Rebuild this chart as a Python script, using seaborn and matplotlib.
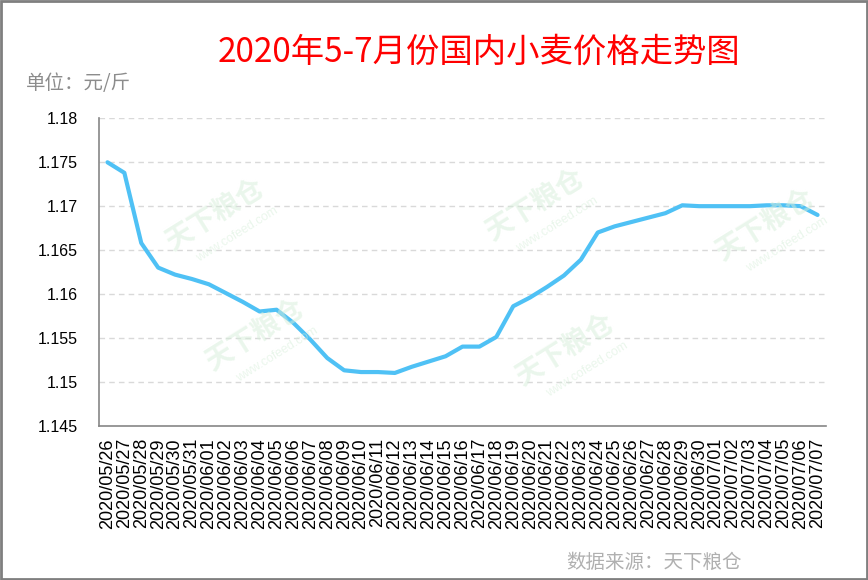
import matplotlib
matplotlib.use("Agg")
import matplotlib.pyplot as plt
import seaborn as sns
import numpy as np
import pandas as pd
from matplotlib.patches import Rectangle

dates = (["2020/05/%02d" % d for d in range(26, 32)]
         + ["2020/06/%02d" % d for d in range(1, 31)]
         + ["2020/07/%02d" % d for d in range(1, 8)])
prices = [1.1750, 1.1738, 1.1658, 1.1630, 1.1622, 1.1617, 1.1611, 1.1601, 1.1591,
          1.1580, 1.1582, 1.1567, 1.1548, 1.1527, 1.1513, 1.1511, 1.1511, 1.1510,
          1.1517, 1.1523, 1.1529, 1.1540, 1.1540, 1.1551, 1.1586, 1.1596, 1.1608,
          1.1621, 1.1639, 1.1670, 1.1677, 1.1682, 1.1687, 1.1692, 1.1701, 1.1700,
          1.1700, 1.1700, 1.1700, 1.1701, 1.1701, 1.1700, 1.1690]
yticks = [1.145, 1.15, 1.155, 1.16, 1.165, 1.17, 1.175, 1.18]
ytick_labels = ["1.145", "1.15", "1.155", "1.16", "1.165", "1.17", "1.175", "1.18"]
title = "2020年5-7月份国内小麦价格走势图"
unit_label = "单位：元/斤"
source = "数据来源：天下粮仓"

sns.set_style("white")
plt.rcParams['font.family'] = ['Liberation Sans', 'Noto Sans CJK SC', 'DejaVu Sans']

W, H = 868, 580
fig = plt.figure(figsize=(W / 100, H / 100), dpi=100)
ax = fig.add_axes([99 / W, 1 - 425.6 / H, (826 - 99) / W, (425.6 - 118.4) / H])

df = pd.DataFrame({"idx": np.arange(len(dates)), "price": prices})

# faint watermarks
wm = [(215, 215), (255, 335), (535, 205), (565, 350), (765, 225)]
for (px, py) in wm:
    fig.text(px / W, 1 - py / H, "天下粮仓", family=['Noto Sans CJK SC'], fontsize=20,
             color="#d6eed9", alpha=0.5, rotation=32, ha="center", va="center",
             fontweight="bold", zorder=0)
    fig.text((px + 22) / W, 1 - (py + 20) / H, "www.cofeed.com", fontsize=9,
             color="#d6eed9", alpha=0.5, rotation=32, ha="center", va="center", zorder=0)

sns.lineplot(data=df, x="idx", y="price", ax=ax, color="#4fc1f5", linewidth=3.0,
             zorder=3, solid_joinstyle="round", solid_capstyle="round")

ax.set_xlim(-0.5, len(dates) - 0.5)
ax.set_ylim(1.145, 1.18)
ax.set_yticks(yticks)
ax.set_yticklabels(ytick_labels, fontsize=11.5, color="black")
ax.set_xticks(np.arange(len(dates)))
ax.set_xticklabels(dates, rotation=90, fontsize=13, color="black")
ax.set_xticks(np.arange(len(dates) + 1) - 0.5, minor=True)
ax.tick_params(axis="x", which="major", length=0, pad=9)
ax.tick_params(axis="x", which="minor", length=6, width=1, color="#868686", direction="out")
ax.tick_params(axis="y", which="major", length=5, width=1, color="#868686", direction="out", pad=10)
ax.set_xlabel("")
ax.set_ylabel("")

ax.grid(False)
for yv in yticks[1:]:
    ax.axhline(yv, color="#d9d9d9", linewidth=1, linestyle=(0, (4, 3)), zorder=1)

for s in ["top", "right"]:
    ax.spines[s].set_visible(False)
for s in ["left", "bottom"]:
    ax.spines[s].set_color("#868686")
    ax.spines[s].set_linewidth(1.2)
ax.patch.set_alpha(0)

fig.text(479 / W, 1 - 52 / H, title, family=['Noto Sans CJK SC'], fontsize=24,
         fontweight="light", color="#ff0000", ha="center", va="center")
fig.text(26 / W, 1 - 83 / H, unit_label, family=['Noto Sans CJK SC'], fontsize=14,
         fontweight="light", color="#8c8c8c", ha="left", va="center")
fig.text(654 / W, 1 - 562 / H, source, family=['Noto Sans CJK SC'], fontsize=14,
         fontweight="light", color="#b0b0b0", ha="center", va="center")

fig.patches.append(Rectangle((0.001, 0.001), 0.998, 0.997, transform=fig.transFigure,
                             fill=False, edgecolor="#7f7f7f", linewidth=2))

fig.savefig("out.png", dpi=100)
